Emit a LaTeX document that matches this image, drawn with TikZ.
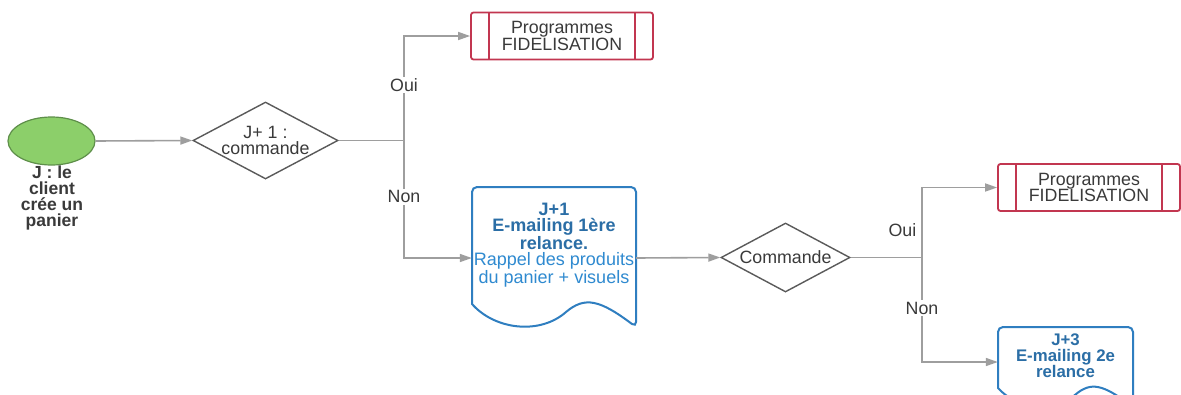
\documentclass[tikz,border=0pt]{standalone}
\usepackage{fontspec}
\setmainfont{Liberation Sans}
\usetikzlibrary{shapes.geometric,arrows.meta}

\definecolor{linegray}{HTML}{9E9E9E}
\definecolor{diamgray}{HTML}{5A5A5A}
\definecolor{txtgray}{HTML}{3A3A3A}
\definecolor{progred}{HTML}{C23650}
\definecolor{docblue}{HTML}{2F7EC0}
\definecolor{docbluedark}{HTML}{2B6EA6}
\definecolor{docbluelight}{HTML}{2F8AD0}
\definecolor{startgreen}{HTML}{8CCF6A}
\definecolor{startborder}{HTML}{5E8F4A}

\begin{document}
\begin{tikzpicture}[x=1pt,y=-1pt,
  txt/.style={font=\fontsize{17.8}{16.5}\selectfont, text=txtgray, align=center},
  flow/.style={draw=linegray, line width=1.6pt, -{Triangle[length=12pt,width=8pt]}},
  link/.style={draw=linegray, line width=1.6pt},
  lbl/.style={txt, fill=white, inner sep=1.5pt},
  startnode/.style={ellipse, draw=startborder, line width=1.2pt, fill=startgreen,
    minimum width=87pt, minimum height=48pt, inner sep=0pt},
  decision/.style={diamond, draw=diamgray, line width=1.4pt, fill=white,
    inner sep=0pt, txt},
  prog/.style={rectangle, rounded corners=2.5pt, draw=progred, line width=1.8pt,
    fill=white, minimum width=182pt, minimum height=47pt, txt,
    path picture={
      \draw[progred, line width=1.8pt]
        ([xshift=18pt]path picture bounding box.north west) --
        ([xshift=18pt]path picture bounding box.south west)
        ([xshift=-18pt]path picture bounding box.north east) --
        ([xshift=-18pt]path picture bounding box.south east);
    }},
  docframe/.style={draw=docblue, line width=2pt, fill=white},
  docanchor/.style={rectangle, inner sep=0pt},
  doctext/.style={font=\fontsize{18}{16.3}\selectfont, align=center, text=docbluedark},
]
\useasboundingbox (0,0) rectangle (1181,394);
\fill[white] (0,0) rectangle (1181,394);
\clip (0,0) rectangle (1181,394);

% start event and its caption
\node[startnode] (start) at (51.5,141) {};
\node[txt, font=\bfseries\fontsize{17.5}{15.7}\selectfont, anchor=center] (startlbl) at (52,198)
  {J : le\\client\\crée un\\panier};

% first decision
\node[decision, aspect=1.88, minimum width=145pt, minimum height=77pt] (d1) at (265.5,140.5)
  {J+ 1 :\\commande};
\coordinate (s1) at (404,140.5);

% loyalty programme, first branch
\node[prog] (fid1) at (562,36) {Programmes\\FIDELISATION};

% first reminder e-mail (document shape)
\node[docanchor, minimum width=164pt, minimum height=142pt] (doc1) at (554,258) {};
\draw[docframe] (472,304) [rounded corners=5pt] -- (472,187) -- (636,187) -- (636,327)
  [sharp corners] .. controls (600,300) and (585,296) .. (566,312)
  .. controls (540,335) and (495,330) .. (472,304) -- cycle;
\node[doctext] (doc1txt) at (554,245)
  {\textbf{J+1}\\\textbf{E-mailing 1ère}\\\textbf{relance.}\\
   \textcolor{docbluelight}{Rappel des produits}\\\textcolor{docbluelight}{du panier + visuels}};

% second decision
\node[decision, aspect=1.87, minimum width=129pt, minimum height=69pt] (d2) at (785.5,257.5)
  {Commande};
\coordinate (s2) at (922,257.5);

% loyalty programme, second branch
\node[prog] (fid2) at (1089,187.5) {Programmes\\FIDELISATION};

% second reminder e-mail (document shape, runs past the lower edge)
\node[docanchor, minimum width=135pt, minimum height=70pt] (doc2) at (1065.5,362) {};
\draw[docframe] (998,388) [rounded corners=5pt] -- (998,327) -- (1133,327) -- (1133,407)
  [sharp corners] .. controls (1103,384.7) and (1091,381.4) .. (1075.4,394.6)
  .. controls (1054,413.5) and (1017,409.4) .. (998,388) -- cycle;
\node[doctext, font=\bfseries\fontsize{16.8}{16}\selectfont] (doc2txt) at (1065.5,356)
  {J+3\\E-mailing 2e\\relance};

% connectors
\draw[flow] (start.east) -- (d1.west);
\draw[link] (d1.east) -- (s1);
\draw[flow] (s1) |- node[lbl, pos=0.266] (oui1) {Oui} (fid1.west);
\draw[flow] (s1) |- node[lbl, pos=0.24] (non1) {Non} (doc1.west);
\draw[flow] (doc1.east) -- (d2.west);
\draw[link] (d2.east) -- (s2);
\draw[flow] (s2) |- node[txt, inner sep=1pt, anchor=east, xshift=-4pt, pos=0.196] (oui2) {Oui} (fid2.west);
\draw[flow] (s2) |- node[lbl, pos=0.242] (non2) {Non} (doc2.west);
\end{tikzpicture}
\end{document}
